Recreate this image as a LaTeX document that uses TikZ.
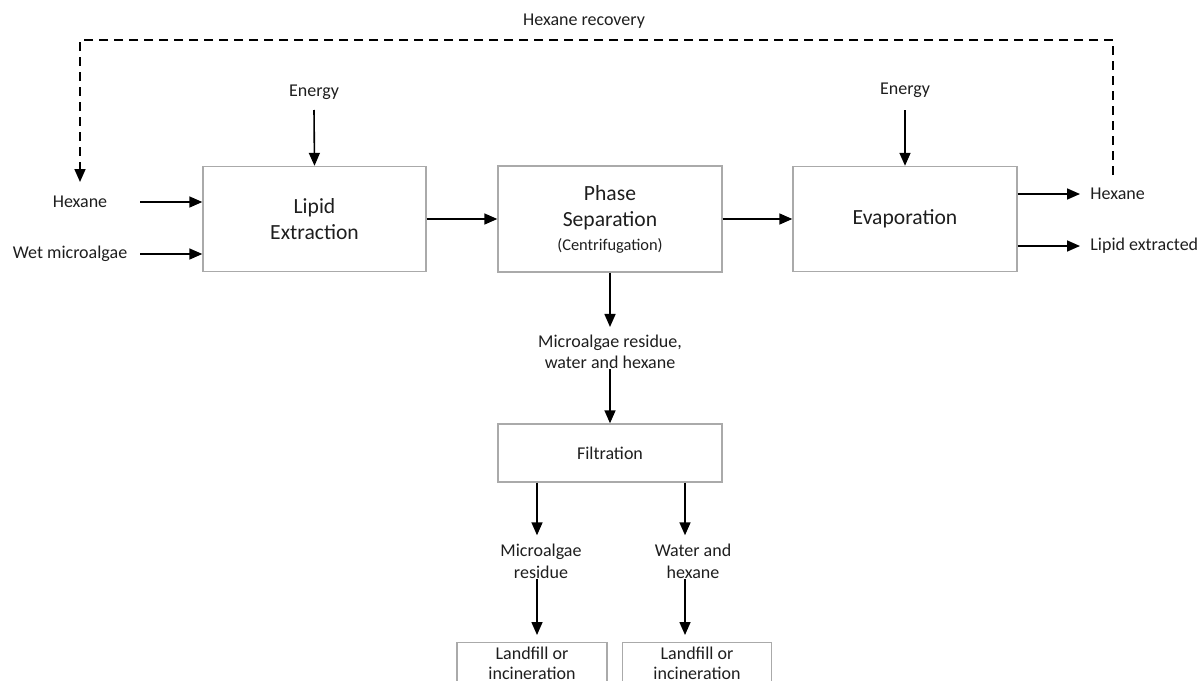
\documentclass[tikz,border=0pt]{standalone}
\usepackage{fontspec}
\setmainfont{Carlito}
\usetikzlibrary{arrows.meta}
\definecolor{boxgray}{RGB}{170,170,170}
\definecolor{txt}{RGB}{30,30,30}
\newcommand{\smallf}{\fontsize{9}{11}\selectfont}
\newcommand{\bigf}{\fontsize{10.8}{13}\selectfont}
\newcommand{\tinyf}{\fontsize{8.2}{10}\selectfont}
\begin{document}
\begin{tikzpicture}[x=0.5pt,y=-0.5pt,
  box/.style={draw=boxgray, line width=0.7pt, inner sep=0pt, align=center, text=txt},
  lbl/.style={inner sep=0pt, align=center, font=\smallf, text=txt},
  arr/.style={line width=0.8pt, black, -{Triangle[length=6.5pt,width=5.5pt]}},
  recycle/.style={arr, dash pattern=on 4.5pt off 3pt}
]
\useasboundingbox (0,0) rectangle (1203,680);
\clip (0,0) rectangle (1203,680);

% process units
\node[box, minimum width=111.5pt, minimum height=52.5pt, font=\bigf] (ext) at (314.5,219) {Lipid\\Extraction};
\node[box, minimum width=112pt, minimum height=53pt, font=\bigf] (sep) at (610,219) {Phase\\Separation\\[-1pt]{\tinyf (Centrifugation)}};
\node[box, minimum width=112pt, minimum height=52.5pt, font=\bigf] (evap) at (905,219) {Evaporation};
\node[box, minimum width=112pt, minimum height=29pt, font=\smallf] (filt) at (610,453) {Filtration};
\node[box, anchor=north, minimum width=75pt, inner ysep=2pt, font=\fontsize{9}{10.3}\selectfont] (lfa) at (532,642) {Landfill or\\incineration\\[6pt]};
\node[box, anchor=north, minimum width=74.5pt, inner ysep=2pt, font=\fontsize{9}{10.3}\selectfont] (lfb) at (697,642) {Landfill or\\incineration\\[6pt]};

% stream labels
\node[lbl] (rec) at (584,21) {Hexane recovery};
\node[lbl] (en1) at (314,92) {Energy};
\node[lbl] (en2) at (905,90) {Energy};
\node[lbl] (hexin) at (80,202) {Hexane};
\node[lbl] (wet) at (70,254) {Wet microalgae};
\node[lbl, anchor=west] (hexout) at (1090,194) {Hexane};
\node[lbl, anchor=west] (lipout) at (1090,246) {Lipid extracted};
\node[lbl, font=\fontsize{9}{10.3}\selectfont] (res) at (610,352) {Microalgae residue,\\water and hexane};
\node[lbl] (mres) at (541,561) {Microalgae\\residue};
\node[lbl] (wh) at (693,561) {Water and\\hexane};

% free ends
\coordinate (hexs) at (140,202);
\coordinate (wets) at (140,254);
\coordinate (e1s) at (314,110);
\coordinate (e2s) at (905,110);
\coordinate (colL) at (537,0);
\coordinate (colR) at (685,0);
\coordinate (rs) at (1113,175);
\coordinate (top) at (0,40);
\coordinate (le) at (80,182);

% main line
\draw[arr] (hexs) -- (ext.west |- hexs);
\draw[arr] (wets) -- (ext.west |- wets);
\draw[arr] (e1s) -- (ext.north);
\draw[arr] (e2s) -- (evap.north);
\draw[arr] (ext.east) -- (sep.west);
\draw[arr] (sep.east) -- (evap.west);
\draw[arr] (evap.east |- hexout) -- ([xshift=-5pt]hexout.west);
\draw[arr] (evap.east |- lipout) -- ([xshift=-5pt]lipout.west);

% residue treatment
\draw[arr] (sep.south) -- ([yshift=4pt]res.north);
\draw[arr] (res.south) -- (filt.north);
\draw[arr] (filt.south -| colL) -- ([yshift=4pt]mres.north -| colL);
\draw[arr] (filt.south -| colR) -- ([yshift=4pt]wh.north -| colR);
\draw[arr] (mres.south -| colL) -- ([yshift=3.5pt]lfa.north -| colL);
\draw[arr] (wh.south -| colR) -- ([yshift=3.5pt]lfb.north -| colR);

% solvent recycle
\draw[recycle] (rs) -- (rs |- top) -- (le |- top) -- (le);
\end{tikzpicture}
\end{document}
